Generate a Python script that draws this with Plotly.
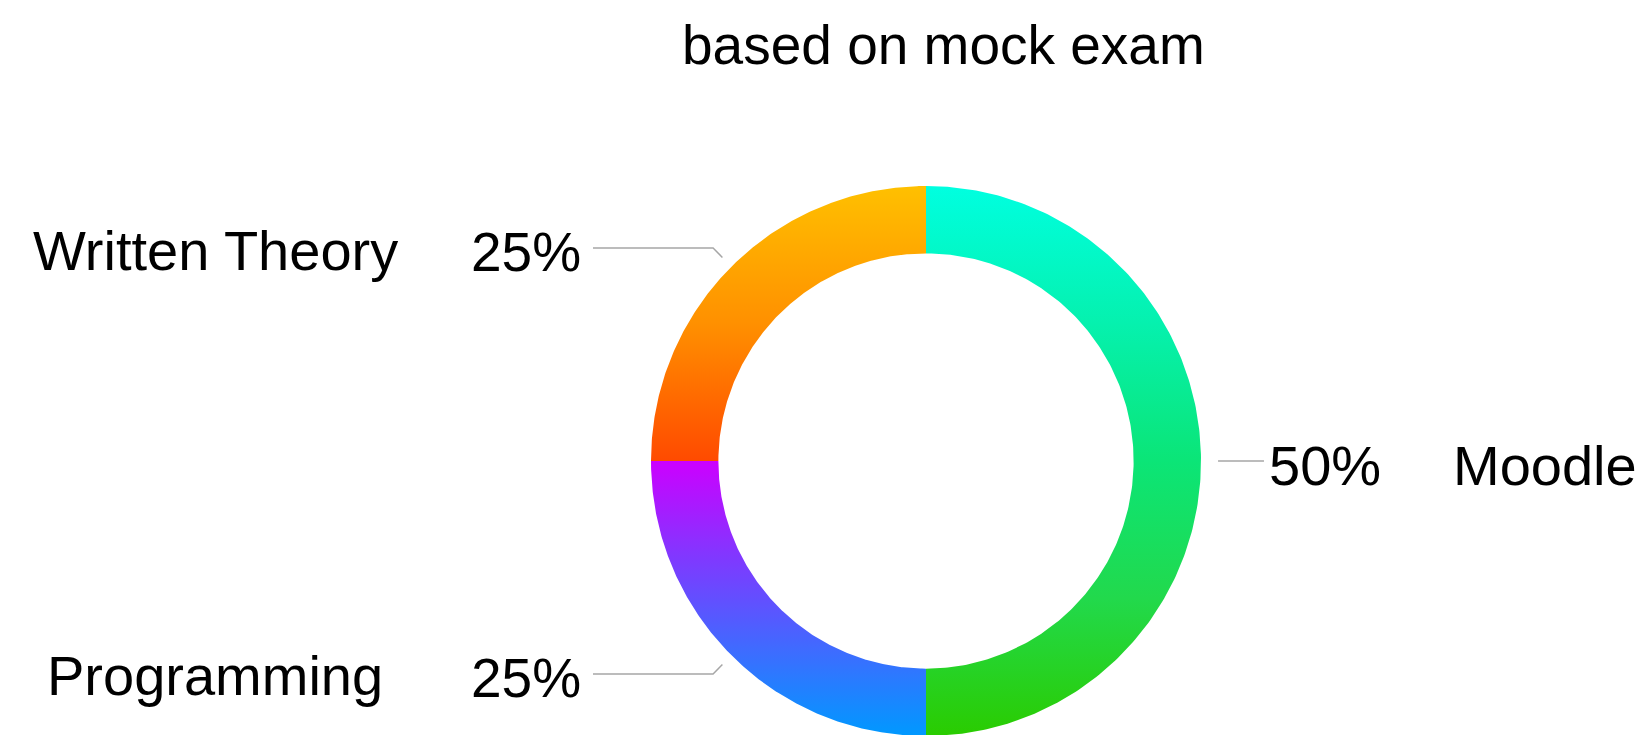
import numpy as np
import plotly.graph_objects as go

# ---------------- data ----------------
categories = ["Moodle", "Programming", "Written Theory"]
values = [50, 25, 25]
title_text = "based on mock exam"

# ---------------- styles ----------------
gradients = {
    "Moodle": [[0.0, "#2ACC00"], [0.25, "#22D94C"], [0.5, "#0BE577"],
               [0.75, "#05F1AE"], [1.0, "#00FFE0"]],
    "Programming": [[0.0, "#0099FF"], [0.3, "#3C6DFF"], [0.65, "#8038FF"],
                    [1.0, "#CC00FF"]],
    "Written Theory": [[0.0, "#FF4A00"], [0.5, "#FF9000"], [1.0, "#FFC000"]],
}
W, H = 1645, 735
CX, CY, PX = 926, 461, 275          # ring centre (pixels) and outer radius (pixels)
R_OUT, R_IN = 1.0, 0.755
FONT = "Liberation Sans, Arial, sans-serif"
LINE_COLOR = "#a6a6a6"

fig = go.Figure()

total = float(sum(values))
cum = 0.0
mids = []
for cat, v in zip(categories, values):
    a0 = 90 - 360 * cum / total
    a1 = 90 - 360 * (cum + v) / total
    cum += v
    th = np.radians(np.linspace(a0, a1, 241))
    xs = np.concatenate([R_OUT * np.cos(th), R_IN * np.cos(th[::-1])])
    ys = np.concatenate([R_OUT * np.sin(th), R_IN * np.sin(th[::-1])])
    xs = np.append(xs, xs[0])
    ys = np.append(ys, ys[0])
    fig.add_trace(go.Scatter(
        x=xs, y=ys, mode="lines", fill="toself",
        line=dict(width=0, color="rgba(0,0,0,0)"),
        fillgradient=dict(type="vertical", colorscale=gradients[cat]),
        name=cat, hoverinfo="text",
        text=f"{cat}: {v / total * 100:.0f}%",
        showlegend=False,
    ))
    mids.append((cat, v, (a0 + a1) / 2))

# leader lines and labels
for cat, v, m in mids:
    mr = np.radians(m)
    c, s = np.cos(mr), np.sin(mr)
    pct = f"{v / total * 100:.0f}%"
    if c >= 0:
        x0, y0 = 1.062 * c, 1.062 * s
        xend = 1.229
        fig.add_trace(go.Scatter(x=[x0, xend], y=[y0, y0], mode="lines",
                                 line=dict(color=LINE_COLOR, width=1.5),
                                 hoverinfo="skip", showlegend=False))
        fig.add_annotation(x=1.24, y=y0, xref="x", yref="y", text=pct,
                           xanchor="left", yanchor="middle", showarrow=False,
                           yshift=-4, font=dict(family=FONT, size=56, color="#000"))
        fig.add_annotation(x=1.91, y=y0, xref="x", yref="y", text=cat,
                           xanchor="left", yanchor="middle", showarrow=False,
                           yshift=-4, font=dict(family=FONT, size=56, color="#000"))
    else:
        x0, y0 = 1.047 * c, 1.047 * s
        xe, ye = 1.095 * c, 1.095 * s
        xend = -1.211
        fig.add_trace(go.Scatter(x=[x0, xe, xend], y=[y0, ye, ye], mode="lines",
                                 line=dict(color=LINE_COLOR, width=1.5),
                                 hoverinfo="skip", showlegend=False))
        fig.add_annotation(x=-1.247, y=ye, xref="x", yref="y", text=pct,
                           xanchor="right", yanchor="middle", showarrow=False,
                           yshift=-4, font=dict(family=FONT, size=55, color="#000"))
        fig.add_annotation(x=-2.585, y=ye, xref="x", yref="y", text=cat,
                           xanchor="center", yanchor="middle", showarrow=False,
                           yshift=-2, font=dict(family=FONT, size=56, color="#000"))

fig.add_annotation(x=943 / W, y=1 - 45 / H, xref="paper", yref="paper",
                   text=title_text, showarrow=False, xanchor="center",
                   yanchor="middle", font=dict(family=FONT, size=55, color="#000"))

fig.update_layout(
    width=W, height=H,
    margin=dict(l=0, r=0, t=0, b=0),
    paper_bgcolor="white", plot_bgcolor="white",
    xaxis=dict(range=[-CX / PX, (W - CX) / PX], visible=False, fixedrange=True),
    yaxis=dict(range=[-(H - CY) / PX, CY / PX], visible=False, fixedrange=True),
    showlegend=False,
)

fig.write_html("out.html", config={"displayModeBar": False})
